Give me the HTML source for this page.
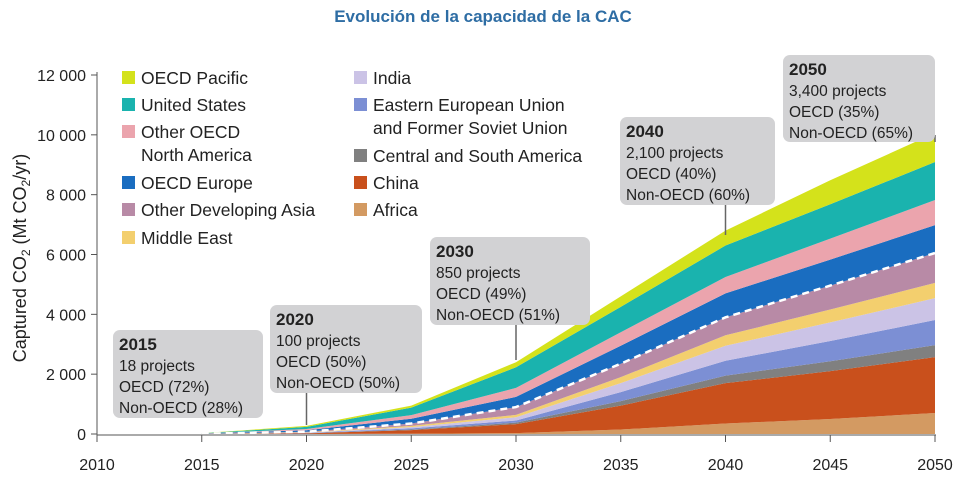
<!DOCTYPE html>
<html><head><meta charset="utf-8"><style>
body{margin:0;background:#fff;width:967px;height:490px;overflow:hidden;font-family:"Liberation Sans",sans-serif}
svg text{font-family:"Liberation Sans",sans-serif}
</style></head><body>
<svg id="c" width="967" height="490">
<text x="483" y="22" text-anchor="middle" font-size="17" font-weight="bold" fill="#2e6da4">Evolución de la capacidad de la CAC</text>
<g id="areas"></g>
<g id="axes"></g>
<g id="legend"></g>
<g id="notes"></g>
</svg>
<script>
const years=[2015,2020,2025,2030,2035,2040,2045,2050];
const seriesNames=["Africa","China","Central and South America","Eastern European Union and Former Soviet Union","India","Middle East","Other Developing Asia","OECD Europe","Other OECD North America","United States","OECD Pacific"];
const africa=[0,2,10,30,150,350,500,700];
const china=[2,20,120,300,800,1350,1600,1870];
const csa=[1,5,20,50,150,250,330,400];
const eeu=[1,10,40,70,300,500,680,840];
const india=[1,10,40,110,300,500,620,730];
const middleEast=[1,10,40,80,200,350,430,510];
const otherDevAsia=[2,20,80,260,450,600,800,1000];
const oecdEurope=[5,50,160,340,600,800,870,930];
const otherOecdNA=[5,40,120,300,450,550,700,840];
const unitedStates=[8,70,250,690,850,1050,1150,1270];
const oecdPacific=[4,33,70,170,350,500,800,970];
const colors=["#d39a62","#c9501c","#808080","#7c8fd4","#cbc3e6","#f3cf6e","#b88aa6","#1a6dc0","#eba4ad","#1ab3ae","#d4e21b"];
const yTicks=[0,2000,4000,6000,8000,10000,12000];
const yTickLabels=["0","2 000","4 000","6 000","8 000","10 000","12 000"];
const xTicks=[2010,2015,2020,2025,2030,2035,2040,2045,2050];
const all=[africa,china,csa,eeu,india,middleEast,otherDevAsia,oecdEurope,otherOecdNA,unitedStates,oecdPacific];
const NS="http://www.w3.org/2000/svg";
const X=v=>97+(v-2010)*(935-97)/40;
const Y=v=>434-v*359/12000;
function mk(t,a,p){const e=document.createElementNS(NS,t);for(const k in a)e.setAttribute(k,a[k]);p.appendChild(e);return e;}
const areas=document.getElementById('areas');
let base=years.map(()=>0);
const cum=[];
all.forEach((s,i)=>{
  const top=base.map((b,j)=>b+s[j]);
  let d="M"+years.map((y,j)=>X(y)+","+Y(top[j])).join(" L");
  for(let j=years.length-1;j>=0;j--)d+=" L"+X(years[j])+","+Y(base[j]);
  const p=mk('path',{d:d+"Z",fill:colors[i]},areas);
  
  
  cum.push(top);base=top;
});
const dl=mk('polyline',{points:years.map((y,j)=>X(y)+","+Y(cum[6][j])).join(" "),fill:"none",stroke:"#fff","stroke-width":2.5,"stroke-dasharray":"7,5"},areas);


const ax=document.getElementById('axes');
mk('line',{x1:97,y1:72,x2:97,y2:435,stroke:"#555"},ax);
mk('line',{x1:97,y1:435,x2:936,y2:435,stroke:"#555"},ax);
yTicks.forEach((v,i)=>{mk('line',{x1:91,y1:Y(v),x2:97,y2:Y(v),stroke:"#555"},ax);
 const t=mk('text',{x:86,y:Y(v)+6,"text-anchor":"end","font-size":16,fill:"#222"},ax);t.textContent=yTickLabels[i];
 
 });
xTicks.forEach(v=>{mk('line',{x1:X(v),y1:435,x2:X(v),y2:442,stroke:"#555"},ax);
 const t=mk('text',{x:X(v),y:470,"text-anchor":"middle","font-size":16,fill:"#222"},ax);t.textContent=v;
 
 });
const yl=mk('text',{transform:"translate(26,258) rotate(-90)","text-anchor":"middle","font-size":18,fill:"#222"},ax);
yl.innerHTML='Captured CO<tspan font-size="12" dy="4">2</tspan><tspan dy="-4"> (Mt CO</tspan><tspan font-size="12" dy="4">2</tspan><tspan dy="-4">/yr)</tspan>';


const lg=document.getElementById('legend');
const legendItems=[[122,78,10,["OECD Pacific"]],[122,105,9,["United States"]],[122,132,8,["Other OECD","North America"]],[122,183,7,["OECD Europe"]],[122,210,6,["Other Developing Asia"]],[122,238,5,["Middle East"]],
[354,78,4,["India"]],[354,105,3,["Eastern European Union","and Former Soviet Union"]],[354,156,2,["Central and South America"]],[354,183,1,["China"]],[354,210,0,["Africa"]]];
legendItems.forEach(([x,y,ci,lines])=>{const g=mk('g',{},lg);
 
 
 mk('rect',{x:x,y:y-7,width:13,height:13,fill:colors[ci]},g);
 lines.forEach((l,k)=>{const t=mk('text',{x:x+19,y:y+6+k*23,"font-size":17.5,fill:"#222"},g);t.textContent=l;});});
const nt=document.getElementById('notes');
const notes=[[113,330,150,88,2015,418,["2015","18 projects","OECD (72%)","Non-OECD (28%)"]],[270,305,152,88,2020,425,["2020","100 projects","OECD (50%)","Non-OECD (50%)"]],[430,237,160,88,2030,360,["2030","850 projects","OECD (49%)","Non-OECD (51%)"]],[620,117,155,88,2040,235,["2040","2,100 projects","OECD (40%)","Non-OECD (60%)"]],[783,55,152,87,2050,135,["2050","3,400 projects","OECD (35%)","Non-OECD (65%)"]]];
notes.forEach(([x,y,w,h,yr,ly,lines])=>{const g=mk('g',{},nt);
 
 
 mk('line',{x1:X(yr),y1:y+h,x2:X(yr),y2:ly,stroke:"#666","stroke-width":1.5},g);
 mk('rect',{x:x,y:y,width:w,height:h,rx:7,fill:"#d2d2d4"},g);
 lines.forEach((l,k)=>{const t=mk('text',{x:x+6,y:y+20+k*21,"font-size":k?15.5:17,"font-weight":k?"normal":"bold",fill:"#222"},g);t.textContent=l;});});
</script>
</body></html>
